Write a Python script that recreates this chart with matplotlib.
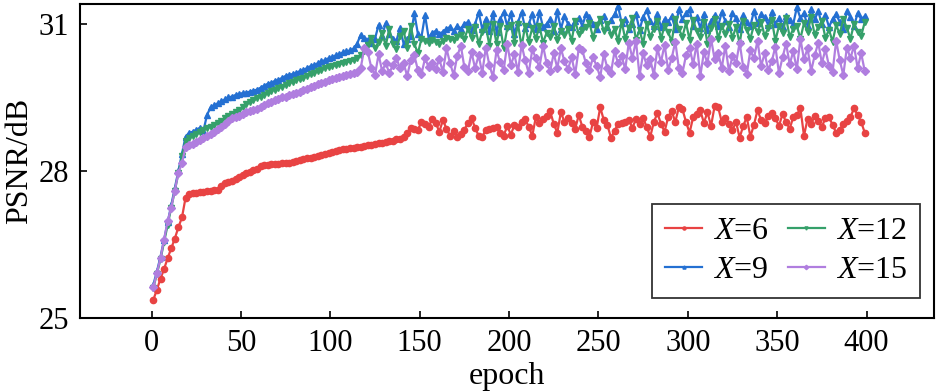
import numpy as np
import matplotlib
matplotlib.use('Agg')
import matplotlib.pyplot as plt

plt.rcParams['font.family'] = ['Liberation Serif', 'DejaVu Serif']
plt.rcParams['mathtext.fontset'] = 'custom'
plt.rcParams['mathtext.rm'] = 'Liberation Serif'
plt.rcParams['mathtext.it'] = 'Liberation Serif:italic'

# epochs (logged every 2 epochs)
epochs = np.arange(1, 400, 2)

# PSNR for X=6
psnr_x6 = [
    25.37, 25.58, 25.8, 26.0, 26.22, 26.42, 26.62, 26.85, 27.05, 27.45,
    27.52, 27.54, 27.56, 27.57, 27.58, 27.59, 27.6, 27.61, 27.62, 27.7,
    27.76, 27.78, 27.8, 27.84, 27.88, 27.92, 27.95, 27.98, 28.02, 28.05,
    28.1, 28.12, 28.13, 28.14, 28.14, 28.15, 28.16, 28.17, 28.17, 28.18,
    28.2, 28.22, 28.24, 28.26, 28.27, 28.29, 28.31, 28.33, 28.35, 28.37,
    28.39, 28.41, 28.43, 28.44, 28.45, 28.46, 28.47, 28.48, 28.49, 28.5,
    28.52, 28.53, 28.55, 28.57, 28.58, 28.6, 28.61, 28.62, 28.65, 28.66,
    28.7, 28.78, 28.88, 28.85, 28.84, 29.0, 28.95, 28.9, 29.06, 28.98,
    28.8, 29.04, 28.86, 28.72, 28.82, 28.7, 28.76, 28.84, 28.98, 29.08,
    28.88, 28.72, 28.7, 28.84, 28.86, 28.88, 28.9, 28.78, 28.72, 28.92,
    28.74, 28.94, 28.9, 29.0, 29.06, 28.9, 28.72, 29.1, 28.98, 29.06,
    29.12, 29.22, 28.96, 28.78, 29.2, 29.0, 29.08, 28.98, 28.86, 29.14,
    28.9, 28.82, 28.7, 29.0, 28.88, 29.3, 29.04, 28.94, 28.68, 28.82,
    28.96, 28.98, 29.0, 29.04, 28.88, 29.06, 28.96, 29.08, 28.9, 28.7,
    29.0, 29.18, 28.96, 28.8, 29.1, 29.22, 29.0, 29.3, 29.26, 29.0,
    28.78, 29.1, 29.16, 29.24, 28.98, 29.2, 28.92, 29.32, 29.3, 29.0,
    29.08, 28.96, 28.84, 29.0, 28.68, 28.92, 29.1, 28.7, 28.94, 29.24,
    29.04, 28.98, 29.12, 29.18, 29.08, 28.92, 29.16, 29.0, 28.86, 29.1,
    29.14, 29.28, 28.72, 29.06, 28.96, 29.12, 29.02, 28.9, 29.08, 29.1,
    28.94, 28.78, 28.84, 28.96, 29.02, 29.1, 29.28, 29.14, 29.0, 28.78,
]

# PSNR for X=9
psnr_x9 = [
    25.68, 25.95, 26.25, 26.6, 26.95, 27.3, 27.65, 28.0, 28.35, 28.7,
    28.78, 28.8, 28.84, 28.88, 28.82, 29.14, 29.3, 29.34, 29.38, 29.42,
    29.46, 29.5, 29.52, 29.55, 29.57, 29.59, 29.6, 29.62, 29.64, 29.66,
    29.7, 29.74, 29.78, 29.8, 29.84, 29.86, 29.9, 29.94, 29.96, 29.98,
    30.0, 30.04, 30.06, 30.1, 30.14, 30.16, 30.2, 30.24, 30.26, 30.3,
    30.32, 30.36, 30.38, 30.42, 30.44, 30.46, 30.5, 30.6, 30.78, 30.72,
    30.68, 30.62, 30.7, 30.98, 30.76, 31.02, 30.8, 30.7, 30.66, 30.92,
    30.6, 30.7, 30.76, 31.22, 30.8, 30.74, 31.18, 30.72, 30.82, 30.86,
    30.8, 30.84, 30.9, 30.94, 30.86, 30.96, 30.9, 31.0, 31.04, 30.88,
    31.0, 31.24, 30.9, 31.1, 30.86, 31.22, 30.84, 31.1, 31.24, 30.96,
    31.22, 30.8, 31.04, 31.24, 30.92, 31.0, 31.2, 30.9, 31.24, 30.94,
    31.0, 31.1, 30.86, 31.26, 30.9, 31.16, 31.0, 30.94, 31.06, 31.12,
    30.96, 31.2, 31.14, 31.0, 30.9, 31.08, 31.16, 30.94, 31.08, 31.2,
    31.36, 31.02, 31.1, 30.9, 31.0, 31.2, 30.88, 31.14, 31.28, 31.06,
    30.96, 31.2, 30.94, 31.1, 31.04, 31.16, 30.9, 31.3, 31.1, 31.22,
    31.3, 30.96, 31.14, 30.92, 31.2, 30.88, 31.06, 31.18, 30.96, 31.24,
    31.06, 30.94, 31.22, 31.12, 30.9, 31.18, 31.04, 30.96, 31.26, 31.02,
    31.2, 31.14, 30.98, 31.24, 31.0, 31.12, 30.94, 31.16, 31.08, 31.0,
    31.34, 31.12, 31.22, 30.96, 31.3, 31.1, 31.26, 31.0, 31.18, 30.94,
    31.1, 31.2, 31.04, 30.9, 31.26, 31.14, 30.96, 31.22, 31.1, 31.16,
]

# PSNR for X=12
psnr_x12 = [
    25.62, 25.9, 26.2, 26.55, 26.9, 27.25, 27.6, 27.95, 28.3, 28.62,
    28.68, 28.72, 28.76, 28.8, 28.84, 28.88, 28.9, 28.94, 28.98, 29.02,
    29.08, 29.12, 29.16, 29.2, 29.24, 29.3, 29.36, 29.4, 29.44, 29.48,
    29.52, 29.56, 29.6, 29.64, 29.66, 29.7, 29.72, 29.76, 29.8, 29.82,
    29.86, 29.88, 29.9, 29.94, 29.98, 30.0, 30.04, 30.06, 30.1, 30.12,
    30.14, 30.16, 30.18, 30.2, 30.22, 30.24, 30.26, 30.3, 30.36, 30.44,
    30.58, 30.72, 30.5, 30.64, 30.82, 30.56, 30.9, 30.6, 30.48, 30.76,
    30.86, 30.52, 30.96, 30.6, 30.4, 30.7, 30.66, 30.62, 30.68, 30.64,
    30.6, 30.66, 30.72, 30.7, 30.68, 30.74, 30.78, 30.7, 30.9, 30.72,
    30.94, 30.6, 30.84, 30.96, 30.56, 31.0, 30.6, 30.96, 30.5, 30.92,
    30.98, 30.62, 31.0, 30.54, 30.96, 30.64, 30.92, 30.7, 30.96, 30.62,
    30.82, 30.74, 30.96, 30.68, 30.86, 30.78, 30.9, 30.66, 31.06, 30.8,
    30.88, 30.94, 31.02, 30.72, 30.98, 31.1, 30.86, 31.0, 30.78, 30.9,
    30.66, 31.04, 30.7, 30.92, 31.12, 30.68, 30.88, 30.6, 31.0, 30.74,
    30.9, 31.06, 30.7, 30.96, 30.84, 30.64, 31.1, 30.9, 30.74, 31.02,
    30.68, 31.08, 30.86, 30.74, 31.04, 30.6, 30.92, 31.1, 30.7, 30.96,
    30.8, 31.0, 30.72, 30.94, 30.6, 31.06, 30.88, 30.7, 30.98, 30.84,
    31.04, 30.76, 30.92, 31.08, 30.66, 30.96, 30.82, 31.12, 30.74, 30.9,
    30.96, 30.7, 31.02, 30.84, 31.14, 30.78, 30.94, 31.06, 30.72, 30.88,
    30.64, 30.98, 30.8, 31.1, 30.92, 30.7, 31.0, 30.84, 30.76, 31.04,
]

# PSNR for X=15
psnr_x15 = [
    25.63, 25.92, 26.22, 26.6, 26.98, 27.25, 27.6, 27.96, 28.16, 28.48,
    28.52, 28.56, 28.6, 28.64, 28.68, 28.72, 28.76, 28.8, 28.86, 28.9,
    28.96, 29.02, 29.08, 29.1, 29.12, 29.16, 29.2, 29.22, 29.24, 29.26,
    29.3, 29.34, 29.38, 29.4, 29.44, 29.46, 29.5, 29.52, 29.56, 29.58,
    29.6, 29.62, 29.66, 29.68, 29.72, 29.74, 29.78, 29.8, 29.82, 29.86,
    29.88, 29.9, 29.92, 29.94, 29.96, 29.98, 30.0, 30.02, 30.1, 30.5,
    30.42, 30.1, 29.96, 30.38, 30.04, 30.2, 30.0, 30.16, 30.3, 30.1,
    30.2, 29.94, 30.26, 30.36, 30.06, 29.98, 30.3, 30.12, 30.2, 30.08,
    30.28, 30.02, 30.5, 30.2, 29.96, 30.34, 30.56, 30.12, 30.04, 30.42,
    30.1, 30.36, 30.0, 30.52, 30.16, 29.92, 30.46, 30.22, 30.06, 30.6,
    30.16, 30.38, 30.02, 30.58, 30.26, 30.0, 30.48, 30.3, 30.12, 30.56,
    30.2, 30.04, 30.4, 30.1, 30.5, 30.24, 30.08, 30.32, 29.98, 30.5,
    30.46, 30.2, 30.06, 30.32, 30.14, 29.92, 30.38, 30.1, 30.0, 30.44,
    30.2, 30.34, 30.08, 30.62, 30.3, 30.66, 29.94, 30.4, 30.16, 30.28,
    29.96, 30.5, 30.22, 30.58, 30.06, 30.3, 30.64, 30.1, 30.0, 30.36,
    30.52, 30.18, 30.6, 29.94, 30.42, 30.2, 30.7, 30.28, 30.4, 30.1,
    30.56, 30.04, 30.34, 30.2, 30.62, 30.12, 29.98, 30.46, 30.3, 30.66,
    30.14, 30.4, 30.06, 30.24, 30.54, 30.0, 30.32, 30.6, 30.18, 30.44,
    30.08, 30.7, 30.28, 30.5, 30.04, 30.36, 30.62, 30.2, 30.48, 30.14,
    30.02, 30.66, 30.26, 29.96, 30.52, 30.3, 30.56, 30.1, 30.4, 30.04,
]

labels = ['$X$=6', '$X$=9', '$X$=12', '$X$=15']
colors = ['#e84343', '#2470d2', '#35a06a', '#b07edf']
markers = ['o', '^', 'v', 'D']

fig = plt.figure(figsize=(9.42, 3.92), dpi=100)
ax = fig.add_axes([0.085, 0.189, 0.907, 0.801])

for ys, lab, c, m in zip([psnr_x6, psnr_x9, psnr_x12, psnr_x15], labels, colors, markers):
    ax.plot(epochs, ys, color=c, marker=m, markersize=4.5, linewidth=1.6, label=lab)

ax.set_xlim(-40, 438)
ax.set_ylim(25, 31.41)
ax.set_xticks(np.arange(0, 401, 50))
ax.set_yticks([25, 28, 31])
ax.tick_params(direction='in', length=5, width=1.2, labelsize=22)
ax.tick_params(axis='x', pad=8)
ax.tick_params(axis='y', pad=8)
for s in ax.spines.values():
    s.set_linewidth(1.5)

ax.set_xlabel('epoch', fontsize=23, labelpad=3)
ax.set_ylabel('PSNR/dB', fontsize=23, labelpad=3)

leg = ax.legend(ncol=2, loc='lower right', bbox_to_anchor=(0.983, 0.063), fontsize=23,
                frameon=True, fancybox=False, edgecolor='black', handlelength=1.15,
                columnspacing=0.6, handletextpad=0.35, labelspacing=0.3, borderpad=0.4,
                borderaxespad=0.0, markerscale=0.5)
leg.get_frame().set_linewidth(1.3)

fig.savefig('out.png', dpi=100)
